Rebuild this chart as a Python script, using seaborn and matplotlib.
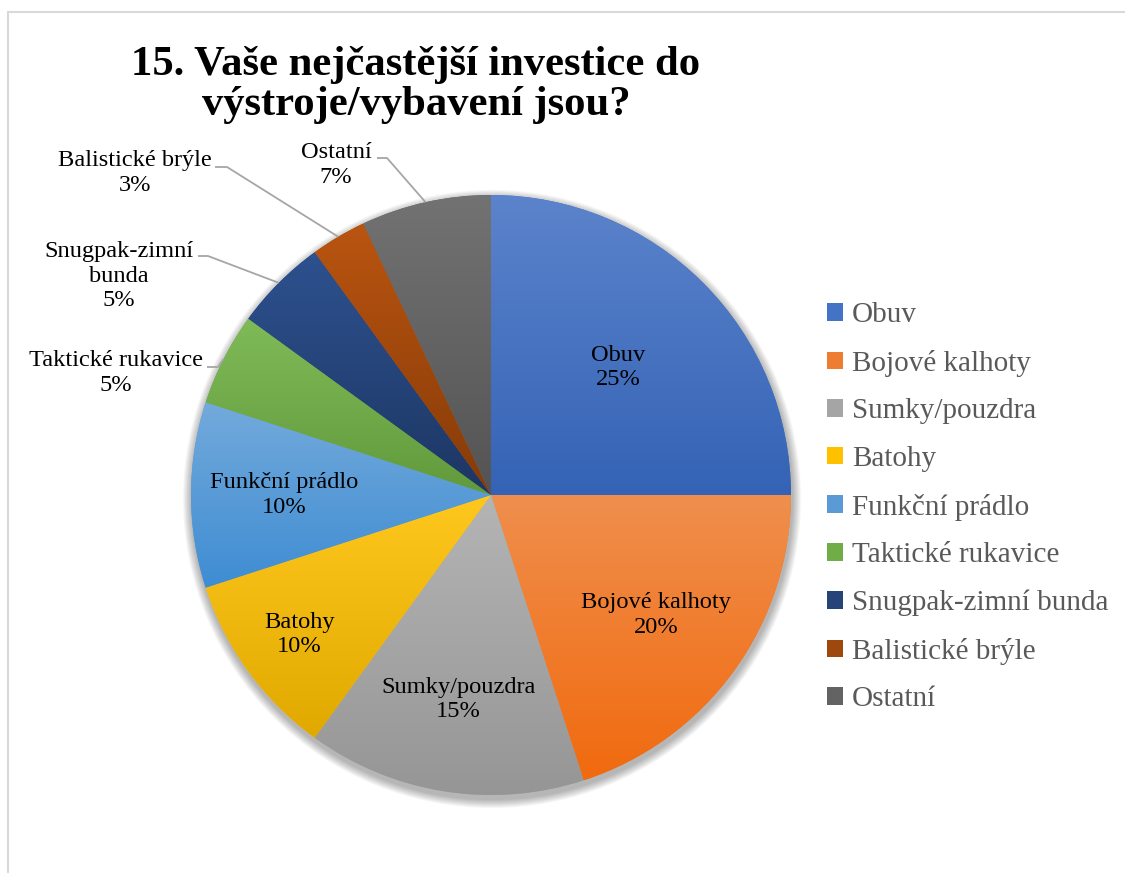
import colorsys
import numpy as np
import seaborn as sns
import matplotlib.pyplot as plt
from matplotlib.colors import to_rgb
from matplotlib.patches import Circle

# data
categories = ["Obuv", "Bojové kalhoty", "Sumky/pouzdra", "Batohy", "Funkční prádlo",
              "Taktické rukavice", "Snugpak-zimní bunda", "Balistické brýle", "Ostatní"]
values = [25, 20, 15, 10, 10, 5, 5, 3, 7]
colors = ["#4472C4", "#ED7D31", "#A5A5A5", "#FFC000", "#5B9BD5",
          "#70AD47", "#264478", "#9E480E", "#636363"]

sns.set_theme(style="white")
plt.rcParams['font.family'] = ['Liberation Serif', 'DejaVu Serif']
plt.rcParams['text.color'] = 'black'

W, H = 1125, 873
fig = plt.figure(figsize=(11.25, 8.73), dpi=100)
ax = fig.add_axes([0, 0, 1, 1])

cx, cy, R = 491, H - 495, 300

# soft shadow under the pie
for k in range(10):
    ax.add_patch(Circle((cx + 1, cy - 4), R + 1 + k * 0.9, color='black',
                        alpha=0.03, lw=0, zorder=0))

wedges, _ = ax.pie(values, colors=sns.color_palette(colors), startangle=90,
                   counterclock=False, center=(cx, cy), radius=R,
                   wedgeprops=dict(linewidth=0))


def shade(c, dl, ds):
    h, l, s = colorsys.rgb_to_hls(*to_rgb(c))
    return np.array(colorsys.hls_to_rgb(h, min(max(l + dl, 0), 1), min(s * ds, 1)))


# vertical gradient on every slice, like Excel
t = np.linspace(0, 1, 256)[:, None]
for w, c in zip(wedges, colors):
    top = shade(c, 0.06, 1.0)
    bot = shade(c, -0.06, 1.06)
    grad = (top * (1 - t) + bot * t).reshape(256, 1, 3)
    ext = w.get_path().get_extents()
    im = ax.imshow(grad, extent=(ext.x0, ext.x1, ext.y0, ext.y1), origin='upper',
                   aspect='auto', interpolation='bilinear', zorder=w.get_zorder() + 0.1)
    im.set_clip_path(w)


def mid_point(w, f):
    a = np.deg2rad((w.theta1 + w.theta2) / 2)
    return cx + f * R * np.cos(a), cy + f * R * np.sin(a)


# labels inside the slices
inner_dist = {0: 0.6, 1: 0.68, 2: 0.69, 3: 0.79, 4: 0.69}
for i, f in inner_dist.items():
    x, y = mid_point(wedges[i], f)
    ax.text(x, y, f"{categories[i]}\n{values[i]}%", ha='center', va='center',
            fontsize=17.6, color='black', zorder=5)

# labels outside with leader lines: text centre, line start, elbow (pixels from top)
outer = {
    5: ("Taktické rukavice\n5%", (116, 373), (207, 367), (218, 367)),
    6: ("Snugpak-zimní\nbunda\n5%", (119, 276), (198, 256), (208, 256)),
    7: ("Balistické brýle\n3%", (135, 173), (215, 167), (227, 167)),
    8: ("Ostatní\n7%", (336, 165), (377, 158), (387, 158)),
}
for i, (txt, tp, p0, p1) in outer.items():
    ax.text(tp[0], H - tp[1], txt, ha='center', va='center', fontsize=17.6,
            color='black', zorder=5)
    ex, ey = mid_point(wedges[i], 1.0)
    ax.plot([p0[0], p1[0], ex], [H - p0[1], H - p1[1], ey], color='#a6a6a6',
            lw=1.3, zorder=4, solid_capstyle='butt')

# chart frame (left and top edges visible)
ax.plot([8, 8], [0, H - 12], color='#d9d9d9', lw=1.5, clip_on=False)
ax.plot([8, W], [H - 12, H - 12], color='#d9d9d9', lw=1.5, clip_on=False)

fig.text(416 / W, 1 - 85 / H, "15. Vaše nejčastější investice do\nvýstroje/vybavení jsou?",
         ha='center', va='center', fontsize=30.7, fontweight='bold', linespacing=1.1,
         color='black')

leg = ax.legend(wedges, categories, loc='upper left', bbox_to_anchor=(801 / W, 1 - 276 / H),
                bbox_transform=fig.transFigure, frameon=False, fontsize=21,
                handlelength=0.55, handleheight=0.55, handletextpad=0.3, labelspacing=0.74)
for txt in leg.get_texts():
    txt.set_color('#595959')

ax.set_xlim(0, W)
ax.set_ylim(0, H)
ax.set_aspect('equal')
ax.axis('off')

fig.savefig('out.png', dpi=100)
